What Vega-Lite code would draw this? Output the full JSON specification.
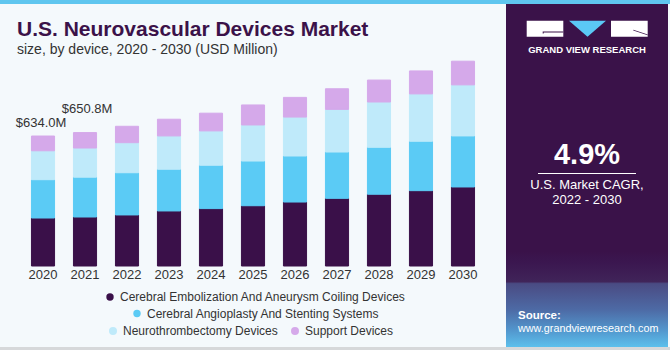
{
  "$schema": "https://vega.github.io/schema/vega-lite/v6.json",
  "background": "#f4f9fc",
  "padding": 0,
  "spacing": 0,
  "config": {
    "view": {"stroke": null},
    "font": "Liberation Sans",
    "legend": {"orient": "none", "symbolType": "circle", "labelFontSize": 12, "labelColor": "#333333", "labelFont": "Liberation Sans", "padding": 0, "labelOffset": 4, "labelLimit": 0}
  },
  "datasets": {
    "market": [
      {"year": "2020", "device": "Cerebral Embolization And Aneurysm Coiling Devices", "value": 234},
      {"year": "2020", "device": "Cerebral Angioplasty And Stenting Systems", "value": 187},
      {"year": "2020", "device": "Neurothrombectomy Devices", "value": 141},
      {"year": "2020", "device": "Support Devices", "value": 72},
      {"year": "2021", "device": "Cerebral Embolization And Aneurysm Coiling Devices", "value": 239},
      {"year": "2021", "device": "Cerebral Angioplasty And Stenting Systems", "value": 194.5},
      {"year": "2021", "device": "Neurothrombectomy Devices", "value": 142},
      {"year": "2021", "device": "Support Devices", "value": 75.3},
      {"year": "2022", "device": "Cerebral Embolization And Aneurysm Coiling Devices", "value": 249},
      {"year": "2022", "device": "Cerebral Angioplasty And Stenting Systems", "value": 206},
      {"year": "2022", "device": "Neurothrombectomy Devices", "value": 146.5},
      {"year": "2022", "device": "Support Devices", "value": 80},
      {"year": "2023", "device": "Cerebral Embolization And Aneurysm Coiling Devices", "value": 268.5},
      {"year": "2023", "device": "Cerebral Angioplasty And Stenting Systems", "value": 203.5},
      {"year": "2023", "device": "Neurothrombectomy Devices", "value": 162.5},
      {"year": "2023", "device": "Support Devices", "value": 81.5},
      {"year": "2024", "device": "Cerebral Embolization And Aneurysm Coiling Devices", "value": 280},
      {"year": "2024", "device": "Cerebral Angioplasty And Stenting Systems", "value": 211.5},
      {"year": "2024", "device": "Neurothrombectomy Devices", "value": 167.5},
      {"year": "2024", "device": "Support Devices", "value": 86.4},
      {"year": "2025", "device": "Cerebral Embolization And Aneurysm Coiling Devices", "value": 294},
      {"year": "2025", "device": "Cerebral Angioplasty And Stenting Systems", "value": 218},
      {"year": "2025", "device": "Neurothrombectomy Devices", "value": 176},
      {"year": "2025", "device": "Support Devices", "value": 97.6},
      {"year": "2026", "device": "Cerebral Embolization And Aneurysm Coiling Devices", "value": 312},
      {"year": "2026", "device": "Cerebral Angioplasty And Stenting Systems", "value": 224.5},
      {"year": "2026", "device": "Neurothrombectomy Devices", "value": 190},
      {"year": "2026", "device": "Support Devices", "value": 96},
      {"year": "2027", "device": "Cerebral Embolization And Aneurysm Coiling Devices", "value": 330},
      {"year": "2027", "device": "Cerebral Angioplasty And Stenting Systems", "value": 226},
      {"year": "2027", "device": "Neurothrombectomy Devices", "value": 208},
      {"year": "2027", "device": "Support Devices", "value": 100.6},
      {"year": "2028", "device": "Cerebral Embolization And Aneurysm Coiling Devices", "value": 350},
      {"year": "2028", "device": "Cerebral Angioplasty And Stenting Systems", "value": 229},
      {"year": "2028", "device": "Neurothrombectomy Devices", "value": 221},
      {"year": "2028", "device": "Support Devices", "value": 107},
      {"year": "2029", "device": "Cerebral Embolization And Aneurysm Coiling Devices", "value": 367.5},
      {"year": "2029", "device": "Cerebral Angioplasty And Stenting Systems", "value": 241},
      {"year": "2029", "device": "Neurothrombectomy Devices", "value": 231},
      {"year": "2029", "device": "Support Devices", "value": 112},
      {"year": "2030", "device": "Cerebral Embolization And Aneurysm Coiling Devices", "value": 385.5},
      {"year": "2030", "device": "Cerebral Angioplasty And Stenting Systems", "value": 249},
      {"year": "2030", "device": "Neurothrombectomy Devices", "value": 249},
      {"year": "2030", "device": "Support Devices", "value": 115.6}
    ]
  },
  "vconcat": [
    {
      "width": 670, "height": 4,
      "view": {"fill": "#5fc6ef", "stroke": null},
      "data": {"values": []},
      "mark": "rect",
      "encoding": {}
    },
    {
      "spacing": 0,
      "hconcat": [
        {
          "width": 506, "height": 262,
          "title": {
            "text": "U.S. Neurovascular Devices Market",
            "subtitle": "size, by device, 2020 - 2030 (USD Million)",
            "anchor": "start", "frame": "group", "dx": 17,
            "fontSize": 21, "fontWeight": "bold", "color": "#3b1249", "font": "Liberation Sans",
            "subtitleFontSize": 14, "subtitleColor": "#333333", "subtitleFont": "Liberation Sans", "subtitlePadding": 3,
            "offset": -53
          },
          "layer": [
            {
              "data": {"name": "market"},
              "transform": [
                {"calculate": "indexof(['Cerebral Embolization And Aneurysm Coiling Devices','Cerebral Angioplasty And Stenting Systems','Neurothrombectomy Devices','Support Devices'], datum.device)", "as": "ord"},
                {"calculate": "datum.device", "as": "device2"},
                {"calculate": "datum.device", "as": "device3"}
              ],
              "mark": {"type": "bar"},
              "encoding": {
                "x": {"field": "year", "type": "ordinal", "scale": {"paddingInner": 0.45, "paddingOuter": 0.749},
                      "axis": {"title": null, "domain": false, "ticks": false, "labelAngle": 0, "labelFontSize": 13, "labelColor": "#333333", "labelPadding": 2, "labelFont": "Liberation Sans"}},
                "y": {"field": "value", "type": "quantitative", "stack": "zero", "scale": {"domain": [0, 1278], "nice": false}, "axis": null},
                "fill": {"field": "device", "type": "nominal",
                         "scale": {"domain": ["Cerebral Embolization And Aneurysm Coiling Devices", "Cerebral Angioplasty And Stenting Systems", "Neurothrombectomy Devices", "Support Devices"],
                                   "range": ["#3a1049", "#5bcbf5", "#bfeafa", "#d5a9ea"]},
                         "legend": {"title": null, "values": ["Cerebral Embolization And Aneurysm Coiling Devices"], "legendX": 104, "legendY": 291,
                                    "symbolSize": 55, "symbolStrokeWidth": 0, "symbolStrokeColor": "transparent"}},
                "opacity": {"field": "device3", "type": "nominal", "scale": {"type": "ordinal", "range": [1, 1, 1, 1]},
                            "legend": {"title": null, "values": ["Cerebral Angioplasty And Stenting Systems"], "legendX": 131, "legendY": 307.5,
                                       "symbolSize": 55, "symbolStrokeWidth": 0, "symbolStrokeColor": "transparent", "symbolFillColor": "#5bcbf5"}},
                "stroke": {"field": "device2", "type": "nominal",
                           "scale": {"domain": ["Neurothrombectomy Devices", "Support Devices", "Cerebral Embolization And Aneurysm Coiling Devices", "Cerebral Angioplasty And Stenting Systems"],
                                     "range": ["#bfeafa", "#d5a9ea", "#3a1049", "#5bcbf5"]},
                           "legend": {"title": null, "values": ["Neurothrombectomy Devices", "Support Devices"], "direction": "horizontal", "columns": 2, "columnPadding": 7,
                                      "legendX": 107, "legendY": 325, "symbolSize": 16, "symbolStrokeWidth": 4, "symbolFillColor": "transparent"}},
                "order": {"field": "ord", "type": "quantitative"}
              }
            },
            {
              "data": {"values": [{"year": "2020", "total": 634.0, "label": "$634.0M"}]},
              "mark": {"type": "text", "fontSize": 13, "color": "#333333", "dy": -9, "dx": -2, "baseline": "alphabetic"},
              "encoding": {
                "x": {"field": "year", "type": "ordinal"},
                "y": {"field": "total", "type": "quantitative"},
                "text": {"field": "label"}
              }
            },
            {
              "data": {"values": [{"year": "2021", "total": 650.8, "label": "$650.8M"}]},
              "mark": {"type": "text", "fontSize": 13, "color": "#333333", "dy": -20, "dx": 2, "baseline": "alphabetic"},
              "encoding": {
                "x": {"field": "year", "type": "ordinal"},
                "y": {"field": "total", "type": "quantitative"},
                "text": {"field": "label"}
              }
            }
          ]
        },
        {
          "spacing": 0,
          "vconcat": [
            {
              "width": 162, "height": 92,
              "view": {"fill": "#3a1249", "stroke": null},
              "title": {"text": "GRAND VIEW RESEARCH", "orient": "bottom", "frame": "group", "anchor": "middle", "offset": -51,
                        "fontSize": 9.5, "fontWeight": "bold", "color": "#ffffff"},
              "layer": [
                {
                  "data": {"values": [{"part": "logo G block"}]},
                  "mark": {"type": "point", "filled": true, "size": 400, "opacity": 1, "strokeWidth": 0, "fill": "#ffffff",
                           "shape": "M-6.03,-2.93L-2.37,-2.93L-2.37,-1.33L-6.03,-1.33Z"},
                  "encoding": {}
                },
                {
                  "data": {"values": [{"part": "logo R block"}]},
                  "mark": {"type": "point", "filled": true, "size": 400, "opacity": 1, "strokeWidth": 0, "fill": "#ffffff",
                           "shape": "M2.4,-2.93L6.07,-2.93L6.07,-1.33L2.4,-1.33Z"},
                  "encoding": {}
                },
                {
                  "data": {"values": [{"part": "logo V triangle"}]},
                  "mark": {"type": "point", "filled": true, "size": 400, "opacity": 1, "strokeWidth": 0, "fill": "#5bc8f5",
                           "shape": "M-1.8,-2.93L1.9,-2.93L0.05,-1.33Z"},
                  "encoding": {}
                },
                {
                  "data": {"values": [{"part": "logo inner strokes"}]},
                  "mark": {"type": "point", "filled": true, "size": 400, "opacity": 1, "strokeWidth": 0, "fill": "#3a1249",
                           "shape": "M-4.43,-1.86L-2.37,-1.86L-2.37,-1.76L-4.33,-1.76L-4.33,-1.66L-4.43,-1.66ZM4.63,-2.02L6.07,-1.56L6.07,-1.47L4.63,-1.94Z"},
                  "encoding": {}
                }
              ]
            },
            {
              "width": 162, "height": 155,
              "view": {"fill": "#3a1249", "stroke": null},
              "data": {"values": [{}]},
              "mark": {"type": "tick", "orient": "horizontal", "size": 98, "thickness": 1, "color": "#ffffff", "opacity": 1},
              "encoding": {},
              "title": {"text": "4.9%", "subtitle": ["U.S. Market CAGR,", "2022 - 2030"], "orient": "bottom", "frame": "group", "anchor": "middle", "offset": -110,
                        "fontSize": 29, "fontWeight": "bold", "color": "#ffffff", "subtitleColor": "#ffffff", "subtitleFontSize": 13, "subtitleLineHeight": 14.5, "subtitlePadding": 9}
            },
            {
              "width": 162, "height": 96,
              "view": {"fill": {"gradient": "linear", "x1": 0, "y1": 0, "x2": 0, "y2": 1,
                                "stops": [{"offset": 0, "color": "#3a1249"}, {"offset": 0.125, "color": "#3b1750"}, {"offset": 0.32, "color": "#402459"}, {"offset": 0.34, "color": "#4a4b83"}, {"offset": 0.61, "color": "#4d6aa5"}, {"offset": 0.82, "color": "#5295cc"}, {"offset": 1, "color": "#5cc0ec"}]},
                       "stroke": null},
              "data": {"values": []},
              "mark": "rect",
              "encoding": {},
              "title": {"text": "Source:", "subtitle": "www.grandviewresearch.com", "orient": "bottom", "frame": "group", "anchor": "start", "dx": 12, "offset": -37,
                        "fontSize": 11.5, "fontWeight": "bold", "color": "#ffffff", "subtitleColor": "#ffffff", "subtitleFontSize": 10.8, "subtitlePadding": 1.5}
            }
          ]
        }
      ]
    },
    {
      "width": 670, "height": 3,
      "view": {"fill": "#d6d8da", "stroke": null},
      "data": {"values": []},
      "mark": "rect",
      "encoding": {}
    }
  ]
}
